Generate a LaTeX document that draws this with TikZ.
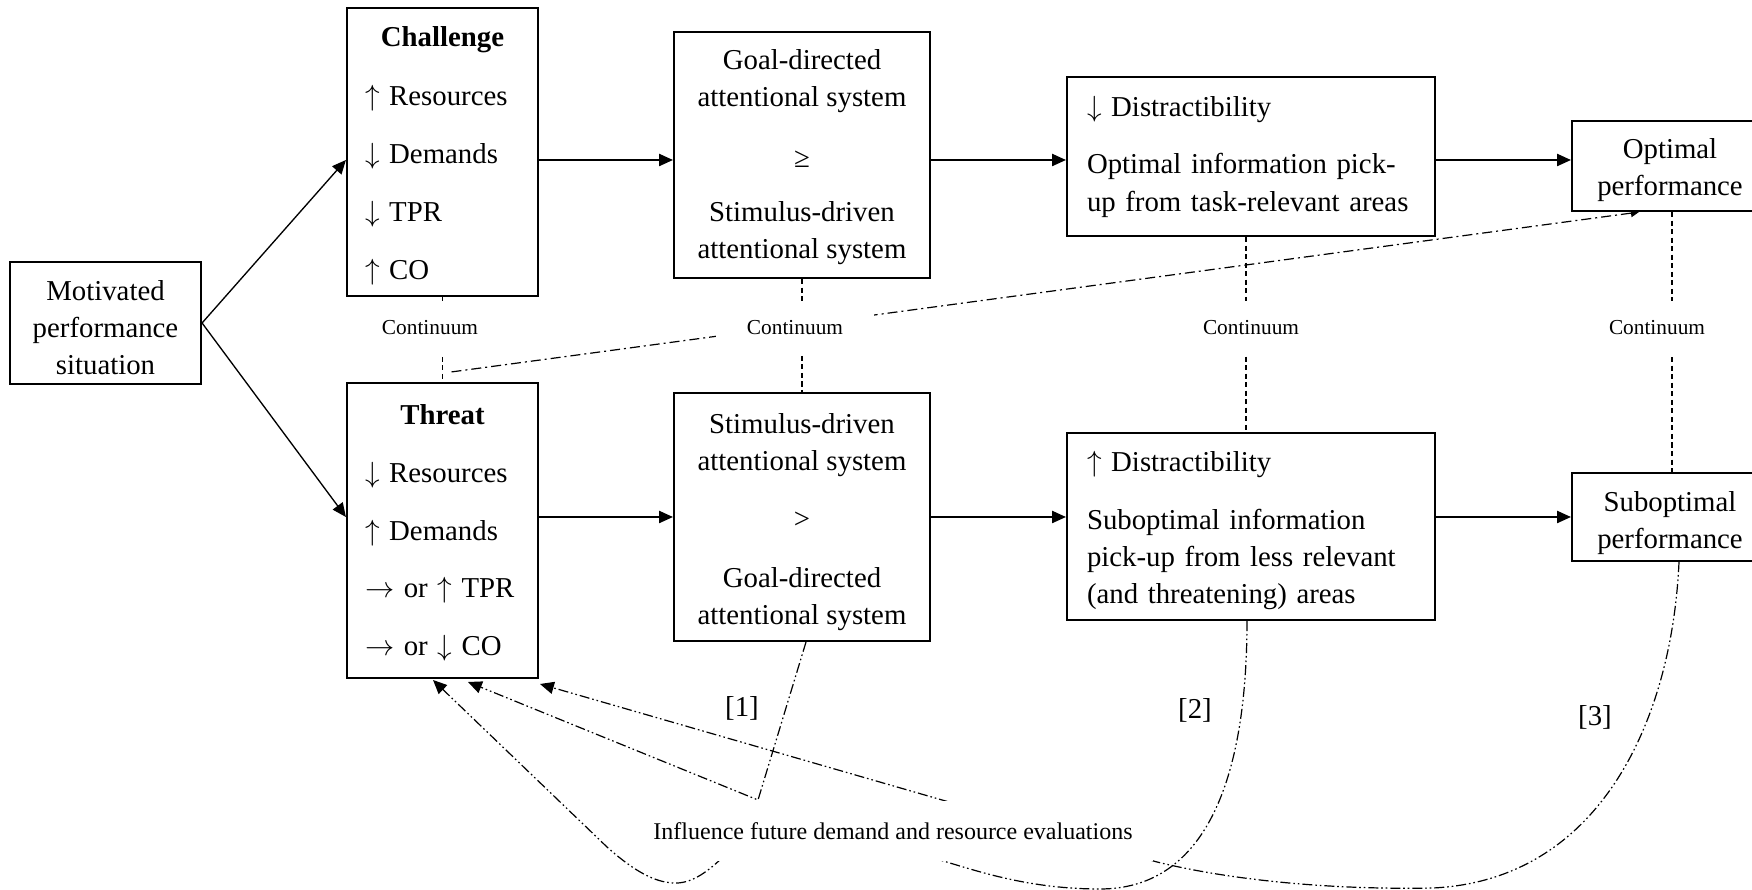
\documentclass[tikz,border=0pt]{standalone}
\usepackage{fontspec}
\setmainfont{Liberation Serif}
\usetikzlibrary{arrows.meta,calc,backgrounds}
\newcommand{\pxu}{0.375pt}
\newcommand{\tstrut}[1]{\rule{0pt}{#1}}
\newcommand{\myup}{$\uparrow$}
\newcommand{\mydown}{$\downarrow$}
\newcommand{\myright}{$\rightarrow$}
\newlength\twA
\setlength\twA{58.125pt}
\begin{document}
\begin{tikzpicture}[x=0.375pt,y=-0.375pt,
  box/.style={draw,line width=0.8pt,fill=white,inner sep=0pt,font=\fontsize{10.8pt}{13.9pt}\selectfont},
  tip/.style={-{Triangle[length=5.2pt,width=4.6pt]}},
  arr/.style={line width=0.5pt,tip},
  dsh/.style={line width=0.45pt,dash pattern=on 1.9pt off 1.3pt},
  dd/.style={line width=0.45pt,dash pattern=on 3.75pt off 1.5pt on 0.75pt off 1.5pt},
  fb/.style={line width=0.45pt,dash pattern=on 3.75pt off 1.1pt on 0.6pt off 1.1pt on 0.6pt off 1.1pt},
  cont/.style={fill=white,font=\fontsize{8pt}{9.6pt}\selectfont,minimum width=158*\pxu,minimum height=53*\pxu,inner sep=0pt},
  num/.style={font=\fontsize{10.8pt}{13pt}\selectfont,inner sep=0pt}
]
\useasboundingbox (0,0) rectangle (1752,890);
\clip (0,0) rectangle (1752,890);

\coordinate (r1) at (0,160);
\coordinate (r2) at (0,517);

% boxes
\node[box,minimum width=191*\pxu,minimum height=122*\pxu,align=center] (mot) at (105.5,323)
  {\tstrut{11.2pt}Motivated\\performance\\situation};
\node[box,minimum width=191*\pxu,minimum height=288*\pxu,text width=155*\pxu,align=left] (chal) at (442.5,152)
  {\tstrut{10.5pt}\makebox[\twA][c]{\textbf{Challenge}}\\[7.9pt]\myup{} Resources\\[7.9pt]\mydown{} Demands\\[7.9pt]\mydown{} TPR\\[7.9pt]\myup{} CO};
\node[box,minimum width=191*\pxu,minimum height=295*\pxu,text width=155*\pxu,align=left] (thr) at (442.5,530.5)
  {\tstrut{9.3pt}\makebox[\twA][c]{\textbf{Threat}}\\[7.8pt]\mydown{} Resources\\[7.8pt]\myup{} Demands\\[7.8pt]\myright{} or \myup{} TPR\\[7.8pt]\myright{} or \mydown{} CO};
\node[box,minimum width=256*\pxu,minimum height=246*\pxu,align=center] (goal) at (802,155)
  {\tstrut{9pt}Goal-directed\\attentional system\\[8.9pt]≥\\[6.3pt]Stimulus-driven\\attentional system};
\node[box,minimum width=256*\pxu,minimum height=248*\pxu,align=center] (stim) at (802,517)
  {\tstrut{11.6pt}Stimulus-driven\\attentional system\\[7.6pt]>\\[8.4pt]Goal-directed\\attentional system};
\node[box,minimum width=368*\pxu,minimum height=159*\pxu,text width=328*\pxu,align=left] (dist) at (1251,156.5)
  {\mydown{} Distractibility\\[7.8pt]Optimal information pick-\\up from task-relevant areas};
\node[box,minimum width=368*\pxu,minimum height=187*\pxu,text width=328*\pxu,align=left] (sdist) at (1251,526.5)
  {\tstrut{10.4pt}\myup{} Distractibility\\[7.8pt]Suboptimal information\\pick-up from less relevant\\(and threatening) areas};
\node[box,minimum width=196*\pxu,minimum height=90*\pxu,align=center] (opt) at (1670,166)
  {\tstrut{10.8pt}Optimal\\performance};
\node[box,minimum width=196*\pxu,minimum height=88*\pxu,align=center] (sopt) at (1670,517)
  {\tstrut{11.8pt}Suboptimal\\performance};

% continuum labels
\node[cont] (c1) at (430,328) {Continuum};
\node[cont] (c2) at (795,328) {Continuum};
\node[cont] (c3) at (1251,328) {Continuum};
\node[cont] (c4) at (1657,328) {Continuum};

% influence label
\node[fill=white,font=\fontsize{9pt}{11pt}\selectfont,minimum width=520*\pxu,minimum height=60*\pxu,inner sep=0pt] (infl) at (893,831) {Influence future demand and resource evaluations};

% numbers
\node[num] (n1) at (742,708) {[1]};
\node[num] (n2) at (1195,710) {[2]};
\node[num] (n3) at (1595,717) {[3]};

\coordinate (t1) at (468,682);
\coordinate (t2) at (433,680);
\coordinate (t3) at (540,684);
\coordinate (v1) at (758,800);

\begin{pgfonlayer}{background}
% main arrows
\draw[arr] (mot.east) -- (chal.west |- r1);
\draw[arr] (mot.east) -- (thr.west |- r2);
\draw[arr] (chal.east |- r1) -- (goal.west |- r1);
\draw[arr] (goal.east |- r1) -- (dist.west |- r1);
\draw[arr] (dist.east |- r1) -- (opt.west |- r1);
\draw[arr] (thr.east |- r2) -- (stim.west |- r2);
\draw[arr] (stim.east |- r2) -- (sdist.west |- r2);
\draw[arr] (sdist.east |- r2) -- (sopt.west |- r2);

% continuum dashed lines
\draw[dsh] (chal.south) -- (thr.north);
\draw[dsh] (goal.south) -- (stim.north);
\draw[dsh] ($(dist.south)+(-5,0)$) -- ($(sdist.north)+(-5,0)$);
\draw[dsh] ($(opt.south)+(2,0)$) -- ($(sopt.north)+(2,0)$);

% dash-dot line to optimal performance
\draw[dd,-{Triangle[length=3pt,width=3pt]}] ($(thr.north)+(9,-10)$) -- ($(opt.south west)+(68,0)$);

% feedback curves
\draw[fb,tip] ($(stim.south)+(4,0)$) -- (v1) -- (t1);
\draw[fb,tip] ($(sdist.south)+(-4,0)$) .. controls (1247,790) and (1200,889) .. (1100,889)
   .. controls (1030,889) and (980,872) .. (940,860)
   .. controls (880,840) and (760,835) .. (722,858)
   .. controls (705,874) and (690,884) .. (673,883)
   .. controls (655,882) and (635,872) .. (607,847) -- (t2);
\draw[fb,tip] ($(sopt.south)+(9,0)$) .. controls (1672,720) and (1600,880) .. (1433,888)
   .. controls (1330,890) and (1230,880) .. (1157,862) -- (t3);
\end{pgfonlayer}
\end{tikzpicture}
\end{document}
